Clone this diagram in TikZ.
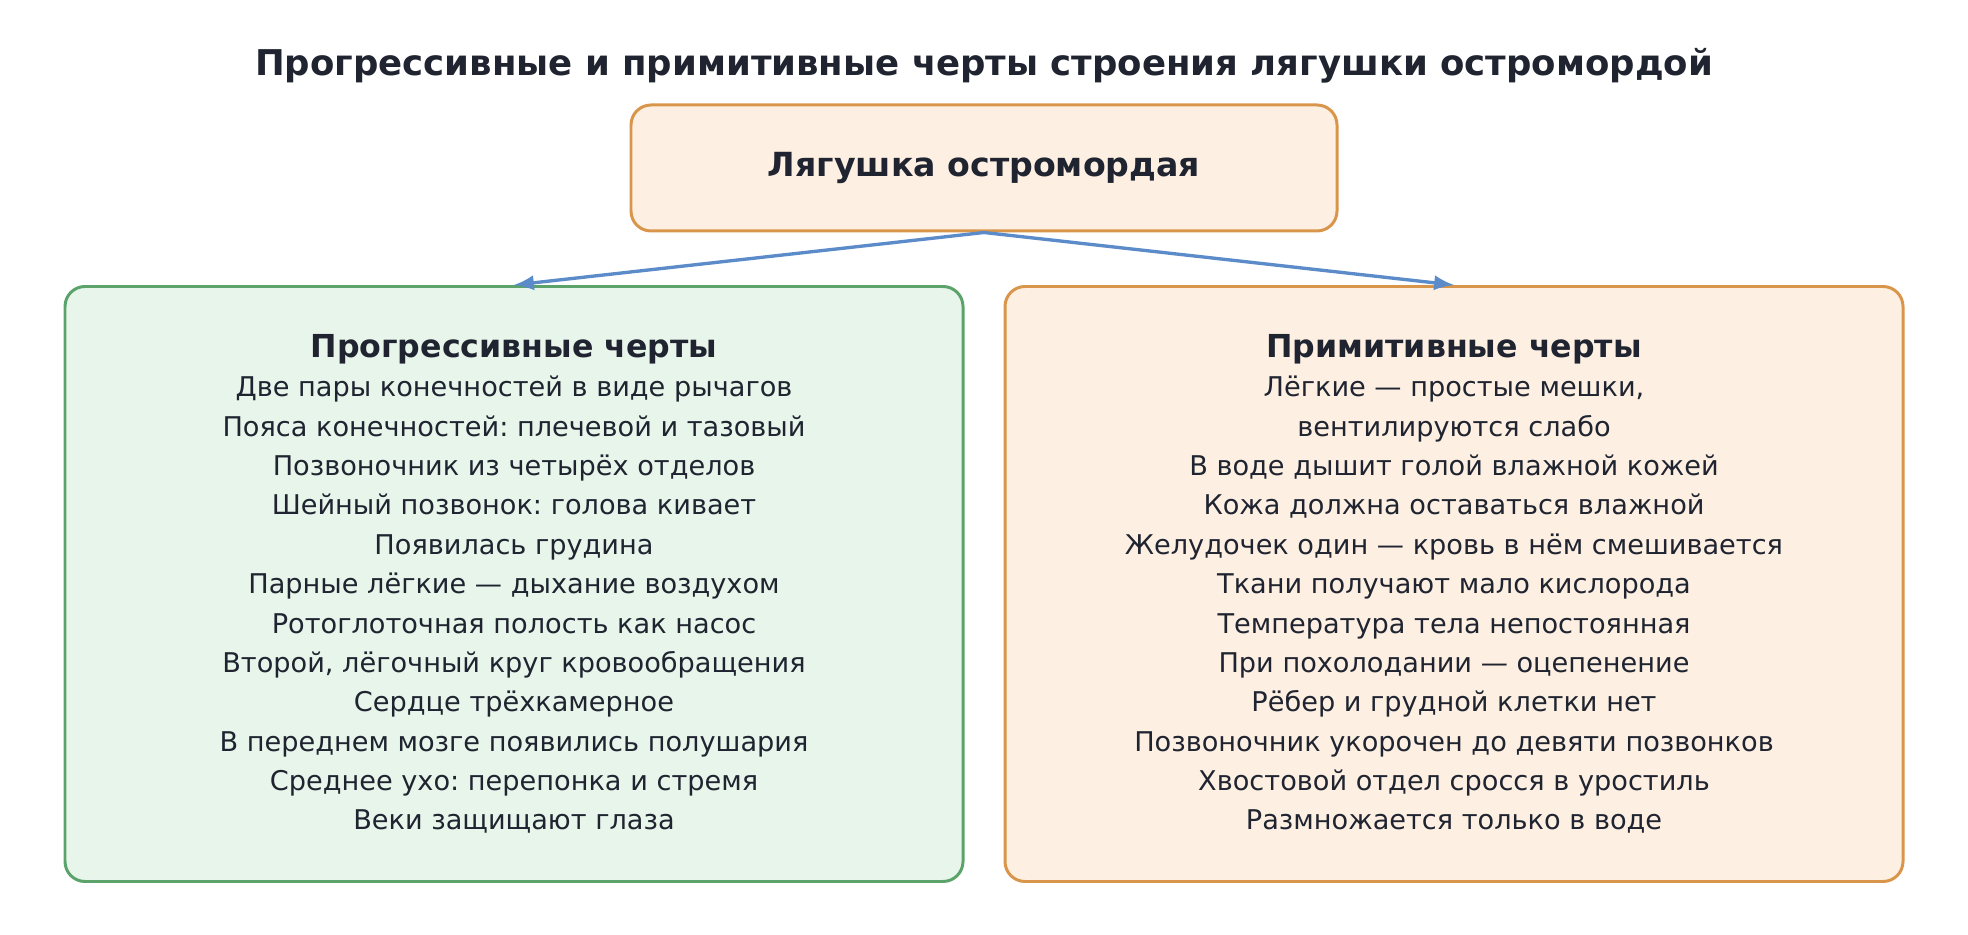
\documentclass[tikz,border=0pt]{standalone}
\usepackage{fontspec}
\setmainfont{DejaVu Sans}
\usepackage{color}
\definecolor{myink}{RGB}{31,36,48}
\definecolor{mycream}{RGB}{253,240,227}
\definecolor{myorange}{RGB}{217,150,74}
\definecolor{mymint}{RGB}{232,245,234}
\definecolor{mygreen}{RGB}{91,163,107}
\definecolor{myblue}{RGB}{91,139,200}
\usepackage{tikz}
\usetikzlibrary{arrows,positioning}
\frenchspacing
\tikzstyle{rootbox}=[draw=myorange,fill=mycream,rounded corners=0.2cm,line width=0.85pt,minimum width=7.06cm,minimum height=1.26cm,font=\fontsize{9.45}{11}\selectfont\bfseries,text=myink]
\tikzstyle{listbox}=[rounded corners=0.2cm,line width=0.85pt,minimum width=8.98cm,minimum height=5.95cm,align=center,font=\fontsize{7.73}{11.2}\selectfont,text=myink]

\begin{document}
\begin{tikzpicture}[>=latex,link/.style={draw=myblue,line width=0.95pt,->}]
\useasboundingbox (0,0) rectangle (19.68,9.35);
\draw (9.84, 8.69) node [font=\fontsize{10.1}{12}\selectfont\bfseries, text=myink] (title) {Прогрессивные и примитивные черты строения лягушки остромордой};
\draw (9.84, 7.67) node [rootbox] (frog) {Лягушка остромордая};
\draw (5.14, 3.51) node [listbox, draw=mygreen, fill=mymint] (prog) {{\fontsize{9}{11}\selectfont\bfseries Прогрессивные черты}\\
Две пары конечностей в виде рычагов\\
Пояса конечностей: плечевой и тазовый\\
Позвоночник из четырёх отделов\\
Шейный позвонок: голова кивает\\
Появилась грудина\\
Парные лёгкие — дыхание воздухом\\
Ротоглоточная полость как насос\\
Второй, лёгочный круг кровообращения\\
Сердце трёхкамерное\\
В переднем мозге появились полушария\\
Среднее ухо: перепонка и стремя\\
Веки защищают глаза};
\draw (14.54, 3.51) node [listbox, draw=myorange, fill=mycream] (prim) {{\fontsize{9}{11}\selectfont\bfseries Примитивные черты}\\
Лёгкие — простые мешки,\\
вентилируются слабо\\
В воде дышит голой влажной кожей\\
Кожа должна оставаться влажной\\
Желудочек один — кровь в нём смешивается\\
Ткани получают мало кислорода\\
Температура тела непостоянная\\
При похолодании — оцепенение\\
Рёбер и грудной клетки нет\\
Позвоночник укорочен до девяти позвонков\\
Хвостовой отдел сросся в уростиль\\
Размножается только в воде};
\draw[link] (frog.south) -- (prog.north);
\draw[link] (frog.south) -- (prim.north);
\end{tikzpicture}
\end{document}
